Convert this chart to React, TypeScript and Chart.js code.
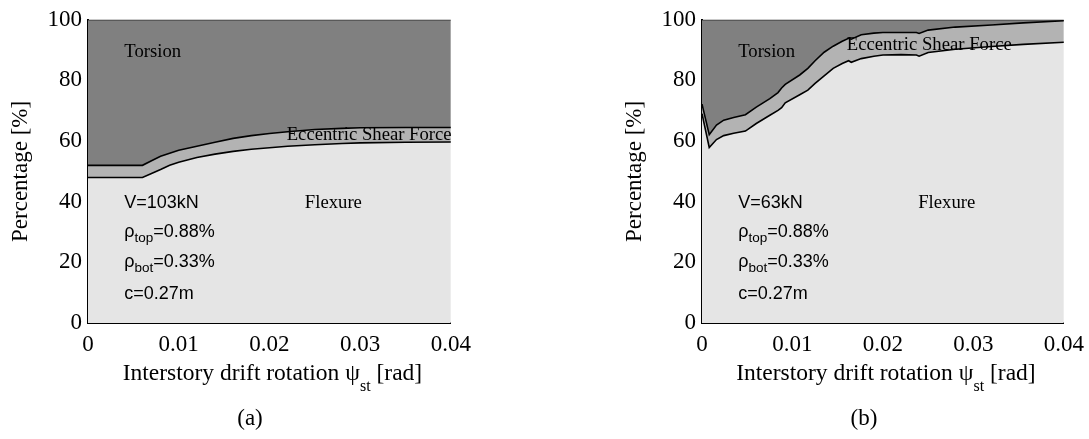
import React, { useEffect, useRef } from "react";
import { Chart, registerables } from "chart.js";

Chart.register(...registerables);

// ---------- data ----------
const driftA = [0, 0.006, 0.007, 0.008, 0.009, 0.01, 0.012, 0.014, 0.016, 0.018, 0.02, 0.022, 0.025, 0.028, 0.03, 0.035, 0.04];
const flexureA = [48, 48, 49.3, 50.6, 52.0, 53.0, 54.6, 55.7, 56.6, 57.3, 57.8, 58.3, 58.8, 59.2, 59.4, 59.6, 59.7];
const flexEccA = [52, 52, 53.5, 55, 56, 57, 58.3, 59.6, 60.9, 61.8, 62.5, 63.1, 63.8, 64.2, 64.4, 64.5, 64.5];

const driftB = [0, 0.0008, 0.0016, 0.0024, 0.0035, 0.0048, 0.006, 0.0075, 0.0084, 0.0088, 0.0092, 0.0108, 0.0117, 0.0125, 0.0135, 0.0145, 0.0155, 0.0162, 0.0165, 0.0176, 0.019, 0.02, 0.022, 0.0237, 0.024, 0.025, 0.028, 0.032, 0.0355, 0.04];
const flexureB = [69, 57.9, 60.5, 61.8, 62.6, 63.3, 65.8, 68.5, 70.1, 71, 72.6, 75.3, 76.8, 79, 81.5, 84, 85.6, 86.5, 86, 87.2, 88, 88.4, 88.5, 88.4, 88, 89.2, 90.3, 91.2, 91.9, 92.6];
const flexEccB = [72.2, 62.1, 65.3, 66.9, 67.8, 68.7, 71.2, 74, 76, 77.5, 78.7, 81.8, 84, 86.5, 89.3, 91.3, 92.9, 93.9, 93.6, 95.1, 95.6, 95.8, 95.8, 95.8, 95.5, 96.6, 97.6, 98.3, 99, 99.7];

const xTicks = [0, 0.01, 0.02, 0.03, 0.04];
const yTicks = [0, 20, 40, 60, 80, 100];
const regionLabels = ["Flexure", "Eccentric Shear Force", "Torsion"];
const shearA = "V=103kN";
const shearB = "V=63kN";
const rhoTopText = "=0.88%";
const rhoBotText = "=0.33%";
const depthText = "c=0.27m";
const yTitle = "Percentage [%]";
const xTitleMain = "Interstory drift rotation ψ";
const xTitleSub = "st";
const xTitleEnd = " [rad]";

// ---------- styles ----------
const SERIF = '"Liberation Serif", "Times New Roman", serif';
const SANS = '"Liberation Sans", Arial, sans-serif';
const FLEX = "#e5e5e5";
const ECC = "#b3b3b3";
const TOR = "#808080";

type PanelProps = {
  left: number;
  width: number;
  drift: number[];
  flexure: number[];
  flexEcc: number[];
  shear: string;
  caption: string;
  eccPos: [number, number];
};

function Panel(props: PanelProps) {
  const ref = useRef<HTMLCanvasElement>(null);
  useEffect(() => {
    const p = props;
    const annot = {
      id: "annot",
      afterDatasetsDraw(chart: any) {
        const { ctx, scales } = chart;
        const px = (v: number) => scales.x.getPixelForValue(v);
        const py = (v: number) => scales.y.getPixelForValue(v);
        ctx.save();
        ctx.fillStyle = "#000";
        ctx.textBaseline = "alphabetic";
        ctx.textAlign = "left";
        ctx.font = `18.7px ${SERIF}`;
        ctx.fillText(regionLabels[2], px(0.004), py(87.8));
        ctx.fillText(regionLabels[0], px(0.0239), py(37.9));
        ctx.fillText(regionLabels[1], px(p.eccPos[0]), py(p.eccPos[1]));
        ctx.font = `18px ${SANS}`;
        const x0 = px(0.004);
        ctx.fillText(p.shear, x0, py(37.9));
        const rho = (sub: string, rest: string, yv: number) => {
          const yb = py(yv);
          ctx.font = `18px ${SANS}`;
          ctx.fillText("ρ", x0, yb);
          const w1 = ctx.measureText("ρ").width;
          ctx.font = `13.5px ${SANS}`;
          ctx.fillText(sub, x0 + w1, yb + 5);
          const w2 = ctx.measureText(sub).width;
          ctx.font = `18px ${SANS}`;
          ctx.fillText(rest, x0 + w1 + w2, yb);
        };
        rho("top", rhoTopText, 28.3);
        rho("bot", rhoBotText, 18.6);
        ctx.font = `18px ${SANS}`;
        ctx.fillText(depthText, x0, py(8.0));
        ctx.restore();
      },
      afterDraw(chart: any) {
        const { ctx, chartArea } = chart;
        ctx.save();
        ctx.fillStyle = "#000";
        ctx.textBaseline = "alphabetic";
        ctx.textAlign = "left";
        ctx.font = `23.5px ${SERIF}`;
        const w1 = ctx.measureText(xTitleMain).width;
        const w3 = ctx.measureText(xTitleEnd).width;
        ctx.font = `16px ${SERIF}`;
        const w2 = ctx.measureText(xTitleSub).width;
        const cx = (chartArea.left + chartArea.right) / 2 + 3;
        const sx = cx - (w1 + w2 + w3) / 2;
        ctx.font = `23.5px ${SERIF}`;
        ctx.fillText(xTitleMain, sx, 380);
        ctx.fillText(xTitleEnd, sx + w1 + w2, 380);
        ctx.font = `16px ${SERIF}`;
        ctx.fillText(xTitleSub, sx + w1, 391);
        ctx.font = `23px ${SERIF}`;
        ctx.textAlign = "center";
        ctx.fillText(p.caption, chartArea.left + 162, 425);
        ctx.restore();
      },
    };

    const pts = (ys: number[]) => p.drift.map((d, i) => ({ x: d, y: ys[i] }));
    const chart = new Chart(ref.current as HTMLCanvasElement, {
      type: "line",
      data: {
        datasets: [
          {
            label: regionLabels[0],
            data: pts(p.flexure),
            fill: "origin",
            backgroundColor: FLEX,
            borderColor: "#000",
            borderWidth: 1.6,
            pointRadius: 0,
            tension: 0,
          },
          {
            label: regionLabels[1],
            data: pts(p.flexEcc),
            fill: "-1",
            backgroundColor: ECC,
            borderColor: "#000",
            borderWidth: 1.6,
            pointRadius: 0,
            tension: 0,
          },
          {
            label: regionLabels[2],
            data: p.drift.map((d) => ({ x: d, y: 100 })),
            fill: "-1",
            backgroundColor: TOR,
            borderColor: "#333",
            borderWidth: 1.5,
            pointRadius: 0,
            tension: 0,
          },
        ],
      } as any,
      options: {
        animation: false,
        responsive: false,
        maintainAspectRatio: false,
        layout: { padding: { top: 12, right: 25, bottom: 0, left: 0 } },
        plugins: {
          legend: { display: false },
          tooltip: { enabled: false },
          filler: { drawTime: "beforeDatasetsDraw" },
        } as any,
        scales: {
          x: {
            type: "linear",
            min: 0,
            max: 0.04,
            afterBuildTicks: (s: any) => {
              s.ticks = xTicks.map((v) => ({ value: v }));
            },
            afterFit: (s: any) => {
              s.height = 116;
            },
            grid: { display: false, drawTicks: false },
            border: { display: true, color: "#000", width: 2 },
            ticks: {
              color: "#000",
              padding: 8,
              maxRotation: 0,
              autoSkip: false,
              font: { family: SERIF, size: 23 },
              callback: (v: any) => (Number(v) === 0 ? "0" : Number(v).toFixed(2)),
            },
          },
          y: {
            min: 0,
            max: 100,
            afterBuildTicks: (s: any) => {
              s.ticks = yTicks.map((v) => ({ value: v }));
            },
            afterFit: (s: any) => {
              s.width = 88;
            },
            grid: { display: false, drawTicks: false },
            border: { display: true, color: "#000", width: 2 },
            ticks: {
              color: "#000",
              padding: 6,
              font: { family: SERIF, size: 23 },
              callback: (v: any) => String(v),
            },
            title: {
              display: true,
              text: yTitle,
              color: "#000",
              font: { family: SERIF, size: 23 },
              padding: { top: 7, bottom: 0 },
            },
          },
        } as any,
      },
      plugins: [annot],
    });
    return () => chart.destroy();
  }, []);
  return (
    <canvas
      ref={ref}
      width={props.width}
      height={439}
      style={{ position: "absolute", left: props.left, top: 0, width: props.width, height: 439 }}
    />
  );
}

export default function App() {
  return (
    <div style={{ position: "absolute", left: 0, top: 0, width: 1089, height: 439, overflow: "hidden", background: "#fff" }}>
      <Panel left={0} width={479} drift={driftA} flexure={flexureA} flexEcc={flexEccA} shear={shearA} caption="(a)" eccPos={[0.0219, 60.3]} />
      <Panel left={614} width={478} drift={driftB} flexure={flexureB} flexEcc={flexEccB} shear={shearB} caption="(b)" eccPos={[0.016, 90.0]} />
    </div>
  );
}
